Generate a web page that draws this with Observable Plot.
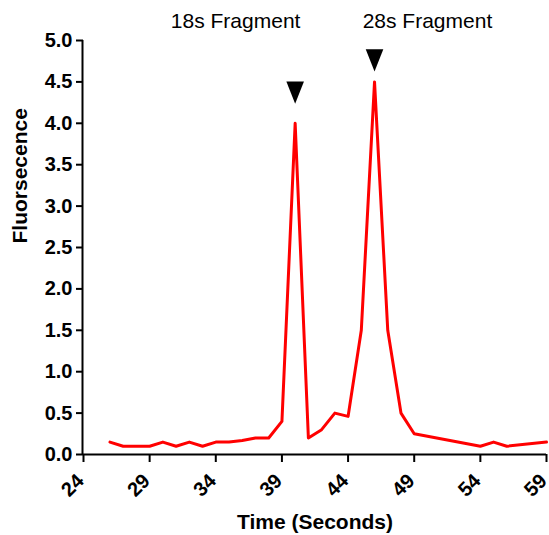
<!DOCTYPE html>
<html>
<head>
<meta charset="utf-8">
<script src="https://cdn.jsdelivr.net/npm/d3@7"></script>
<script src="https://cdn.jsdelivr.net/npm/@observablehq/plot@0.6"></script>
<style>
  html, body { margin: 0; padding: 0; background: #fff; }
  #chart svg { display: block; }
</style>
</head>
<body>
<div id="chart"></div>
<script>
// Data
const times  = [26, 27, 28, 29, 30, 31, 32, 33, 34, 35, 36, 37, 38, 39, 40, 41, 42, 43, 44, 45, 46, 47, 48, 49, 54, 55, 56, 59];
const values = [0.15, 0.1, 0.1, 0.1, 0.15, 0.1, 0.15, 0.1, 0.15, 0.15, 0.17, 0.2, 0.2, 0.4, 4.0, 0.2, 0.3, 0.5, 0.46, 1.5, 4.5, 1.5, 0.5, 0.25, 0.1, 0.15, 0.1, 0.15];

const markerTimes  = [40, 46];
const markerValues = [4.37, 4.76];

const labelTexts  = ["18s Fragment", "28s Fragment"];
const labelTimes  = [35.5, 50];
const labelValues = [5.145, 5.145];

const xTicks = [24, 29, 34, 39, 44, 49, 54, 59];
const yTicks = [0, 0.5, 1, 1.5, 2, 2.5, 3, 3.5, 4, 4.5, 5];

const xTitle = "Time (Seconds)";
const yTitle = "Fluorsecence";

const series  = times.map((t, i) => ({t, v: values[i]}));
const markers = markerTimes.map((t, i) => ({t, v: markerValues[i]}));
const labels  = labelTexts.map((s, i) => ({s, t: labelTimes[i], v: labelValues[i]}));

// Down-pointing elongated triangle symbol
const downTriangle = {
  draw(ctx) {
    ctx.moveTo(-8.8, -11.2);
    ctx.lineTo(8.8, -11.2);
    ctx.lineTo(0, 11.2);
    ctx.closePath();
  }
};

const font = "Arial, 'Liberation Sans', Helvetica, sans-serif";

const chart = Plot.plot({
  width: 549,
  height: 535,
  marginLeft: 83,
  marginRight: 3,
  marginTop: 40,
  marginBottom: 81,
  style: {fontFamily: font, color: "#000", background: "#fff", overflow: "visible"},
  x: {domain: [24, 59]},
  y: {domain: [0, 5]},
  marks: [
    Plot.axisY({
      ticks: yTicks, tickFormat: d3.format(".1f"),
      tickSize: 7, tickPadding: 4, strokeWidth: 2,
      fontSize: 20, fontWeight: "bold", label: null
    }),
    // x tick marks only
    Plot.axisX({
      ticks: xTicks, tickFormat: () => "",
      tickSize: 8, strokeWidth: 2, label: null
    }),
    // x tick labels only, rotated and pushed down
    Plot.axisX({
      ticks: xTicks, tickFormat: d => String(d),
      tickSize: 0, tickPadding: 11, tickRotate: -45,
      dx: -3, dy: 12,
      fontSize: 20, fontWeight: "bold", label: null
    }),
    Plot.ruleX([24], {y1: 0, y2: 5, stroke: "#000", strokeWidth: 2, dx: -1}),
    Plot.ruleY([0], {stroke: "#000", strokeWidth: 2}),
    Plot.line(series, {x: "t", y: "v", stroke: "#ff0000", strokeWidth: 3}),
    Plot.dot(markers, {x: "t", y: "v", symbol: downTriangle, fill: "#000", stroke: null}),
    Plot.text(labels, {x: "t", y: "v", text: "s", fontSize: 21, lineAnchor: "bottom", textAnchor: "middle", fill: "#000"}),
    Plot.text([xTitle], {frameAnchor: "bottom", dy: 74, lineAnchor: "bottom", fontSize: 21, fontWeight: "bold", fill: "#000"}),
    Plot.text([yTitle], {frameAnchor: "left", rotate: -90, dx: -57, dy: -4, lineAnchor: "bottom", fontSize: 21, fontWeight: "bold", fill: "#000"})
  ]
});

document.getElementById("chart").appendChild(chart);
</script>
</body>
</html>
